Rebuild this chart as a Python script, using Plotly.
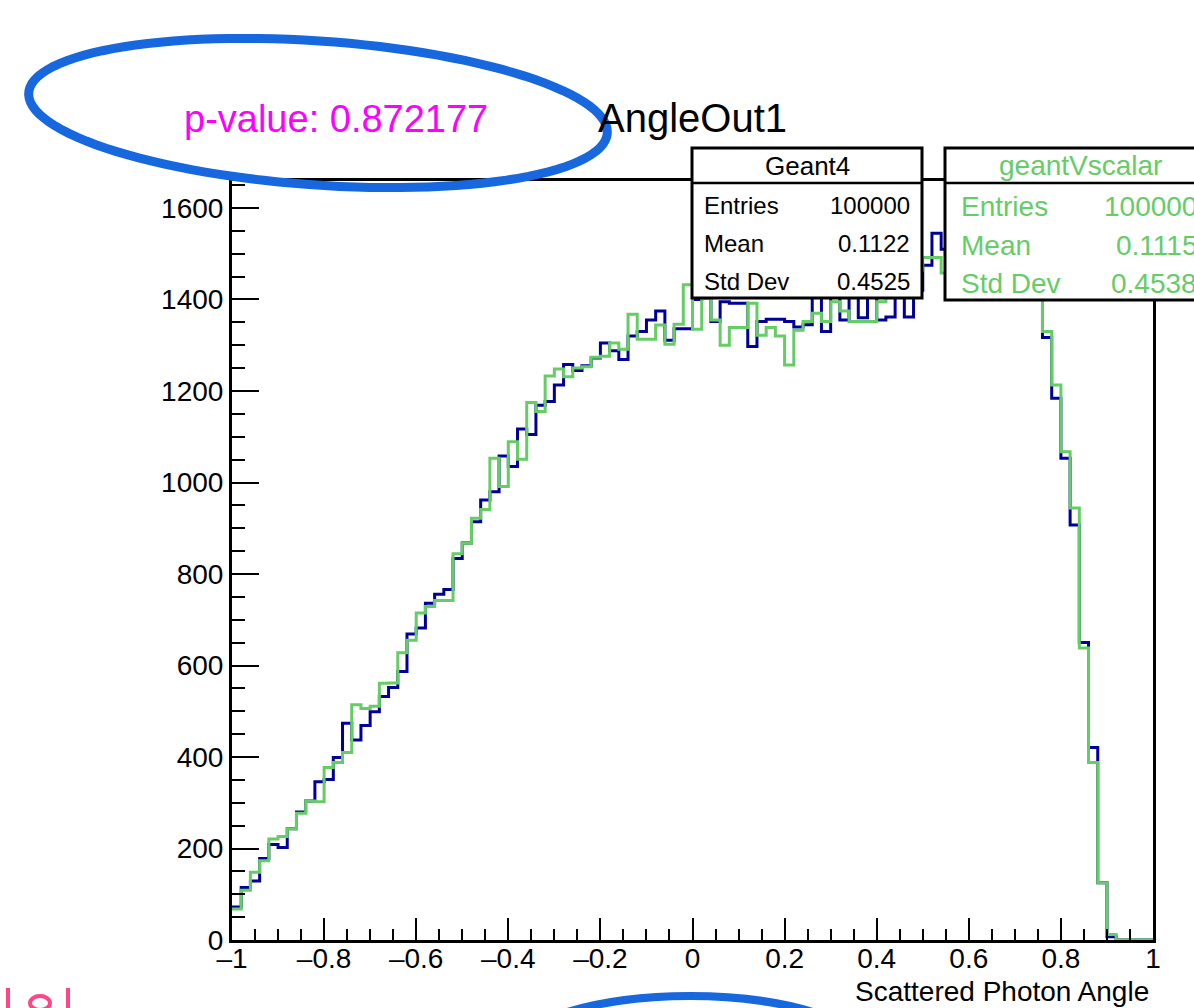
import numpy as np
import plotly.graph_objects as go

# ---------------- data ----------------
x_min, x_max, n_bins = -1.0, 1.0, 100

geant4_counts = [
    72, 115, 129, 178, 209, 202, 243, 280, 304, 346,
    351, 399, 474, 437, 469, 499, 532, 552, 587, 669,
    682, 736, 756, 766, 834, 868, 914, 962, 980, 1058,
    1035, 1117, 1105, 1169, 1177, 1213, 1258, 1245, 1255, 1272,
    1305, 1288, 1269, 1320, 1330, 1355, 1375, 1311, 1336, 1336,
    1400, 1402, 1352, 1395, 1392, 1392, 1297, 1352, 1357, 1357,
    1352, 1340, 1345, 1405, 1330, 1405, 1355, 1405, 1360, 1405,
    1355, 1362, 1420, 1362, 1420, 1475, 1545, 1510, 1530, 1520,
    1545, 1535, 1550, 1540, 1530, 1520, 1500, 1460, 1317, 1184,
    1053, 907, 650, 421, 125, 7, 0, 0, 0, 0,
]

geantVscalar_counts = [
    68, 109, 148, 173, 221, 226, 243, 277, 304, 302,
    377, 388, 410, 514, 506, 511, 561, 562, 628, 655,
    715, 729, 742, 742, 844, 867, 922, 941, 1053, 991,
    1089, 1051, 1175, 1155, 1233, 1248, 1231, 1250, 1253, 1274,
    1276, 1305, 1291, 1368, 1313, 1313, 1344, 1302, 1346, 1432,
    1335, 1402, 1355, 1300, 1339, 1339, 1392, 1322, 1339, 1320,
    1257, 1333, 1352, 1370, 1352, 1395, 1375, 1352, 1352, 1352,
    1395, 1443, 1446, 1450, 1464, 1492, 1492, 1458, 1500, 1520,
    1510, 1535, 1520, 1540, 1530, 1510, 1490, 1450, 1330, 1213,
    1067, 944, 638, 388, 125, 12, 0, 0, 0, 0,
]

x_tickvals = [-1, -0.8, -0.6, -0.4, -0.2, 0, 0.2, 0.4, 0.6, 0.8, 1]
x_ticktext = ["\u20131", "\u20130.8", "\u20130.6", "\u20130.4", "\u20130.2",
              "0", "0.2", "0.4", "0.6", "0.8", "1"]

stats_geant4 = [("Entries", "100000"), ("Mean", "0.1122"), ("Std Dev", "0.4525")]
stats_scalar = [("Entries", "100000"), ("Mean", "0.1115"), ("Std Dev", "0.4538")]
p_value_text = "p-value: 0.872177"
title_text = "AngleOut1"
x_title = "Scattered Photon Angle"

# ---------------- geometry helpers ----------------
W, H = 1194, 1008
L, R, T, B = 232, 1153, 181, 940


def px(xpix):
    return (xpix - L) / (R - L)


def py(ypix):
    return (B - ypix) / (B - T)


edges = np.linspace(x_min, x_max, n_bins + 1)

BLUE = "#000099"
GREEN = "#66cc66"
FONT = "Liberation Sans, Arial, sans-serif"

fig = go.Figure()
for counts, color, name in [(geant4_counts, BLUE, "Geant4"),
                            (geantVscalar_counts, GREEN, "geantVscalar")]:
    yv = list(counts) + [counts[-1]]
    fig.add_trace(go.Scatter(x=edges, y=yv, mode="lines", name=name,
                             line=dict(shape="hv", color=color, width=3),
                             showlegend=False, hoverinfo="skip"))

shapes = []
annotations = []


def box(x0, y0, x1, y1, header_y):
    shapes.append(dict(type="rect", xref="paper", yref="paper",
                       x0=px(x0), x1=px(x1), y0=py(y1), y1=py(y0),
                       line=dict(color="black", width=3), fillcolor="white",
                       layer="above"))
    shapes.append(dict(type="line", xref="paper", yref="paper",
                       x0=px(x0), x1=px(x1), y0=py(header_y), y1=py(header_y),
                       line=dict(color="black", width=2.5), layer="above"))


def text(s, x, y, size, color="black", anchor="center"):
    annotations.append(dict(text=s, x=px(x), y=py(y), xref="paper", yref="paper",
                            showarrow=False, xanchor=anchor, yanchor="middle",
                            font=dict(family=FONT, size=size, color=color)))


# stats box 1
box(692, 148, 922, 298, 183)
text("Geant4", 807, 166, 26)
for i, (k, v) in enumerate(stats_geant4):
    yy = 205 + 38 * i
    text(k, 702, yy, 24, anchor="left")
    text(v, 912, yy, 24, anchor="right")

# stats box 2 (cut at page edge, as in the original)
box(945, 148, 1240, 300, 183)
text("geantVscalar", 1080, 166, 28, GREEN)
for i, (k, v) in enumerate(stats_scalar):
    yy = 207 + 38 * i
    text(k, 959, yy, 28, GREEN, anchor="left")
    text(v, 1199, yy, 28, GREEN, anchor="right")

# title and p-value
text(title_text, 692, 118, 40)
text(p_value_text, 336, 119, 38, "#ff00ff")

# x axis title
text(x_title, 1151, 991, 28, anchor="right")

# hand-drawn ellipse around p-value
t = np.linspace(0, 2 * np.pi, 120)
cx, cy, rx, ry, ang = 318, 113, 290, 72, np.deg2rad(4)
ex = cx + rx * np.cos(t) * np.cos(ang) - ry * np.sin(t) * np.sin(ang)
ey = cy + rx * np.cos(t) * np.sin(ang) + ry * np.sin(t) * np.cos(ang)
path = "M " + " L ".join(f"{px(a):.5f},{py(b):.5f}" for a, b in zip(ex, ey)) + " Z"
shapes.append(dict(type="path", xref="paper", yref="paper", path=path,
                   line=dict(color="#1767de", width=9), layer="above"))

# partial ellipse at bottom
shapes.append(dict(type="circle", xref="paper", yref="paper",
                   x0=px(495), x1=px(885), y0=py(1140), y1=py(996),
                   line=dict(color="#1767de", width=8), layer="above"))

# pink handwriting strokes bottom-left
for xs in (8, 68):
    shapes.append(dict(type="line", xref="paper", yref="paper",
                       x0=px(xs), x1=px(xs), y0=py(988), y1=py(1010),
                       line=dict(color="#ff4488", width=4), layer="above"))
shapes.append(dict(type="circle", xref="paper", yref="paper",
                   x0=px(30), x1=px(50), y0=py(1010), y1=py(996),
                   line=dict(color="#ff4488", width=4), layer="above"))

fig.update_layout(
    width=W, height=H, autosize=False,
    margin=dict(l=L, r=W - R, t=T, b=H - B, pad=0, autoexpand=False),
    paper_bgcolor="white", plot_bgcolor="white",
    font=dict(family=FONT, size=28, color="black"),
    shapes=shapes, annotations=annotations,
    xaxis=dict(range=[x_min, x_max], tickmode="array", tickvals=x_tickvals,
               ticktext=x_ticktext, ticks="inside", tickangle=0,
               ticklabelstandoff=-9,
               ticklen=22, tickwidth=2, tickcolor="black",
               showline=True, linecolor="black", linewidth=3, mirror=True,
               showgrid=False, zeroline=False, automargin=False,
               tickfont=dict(size=28),
               minor=dict(ticks="inside", ticklen=11, tickwidth=2,
                          tickcolor="black", dtick=0.05, tick0=-1, showgrid=False)),
    yaxis=dict(range=[0, 1659], tick0=0, dtick=200, ticks="inside",
               ticklen=27, tickwidth=2, tickcolor="black",
               showline=True, linecolor="black", linewidth=3, mirror=True,
               showgrid=False, zeroline=False, automargin=False,
               tickfont=dict(size=28),
               minor=dict(ticks="inside", ticklen=13, tickwidth=2,
                          tickcolor="black", dtick=50, tick0=0, showgrid=False)),
)

fig.write_html("out.html")
